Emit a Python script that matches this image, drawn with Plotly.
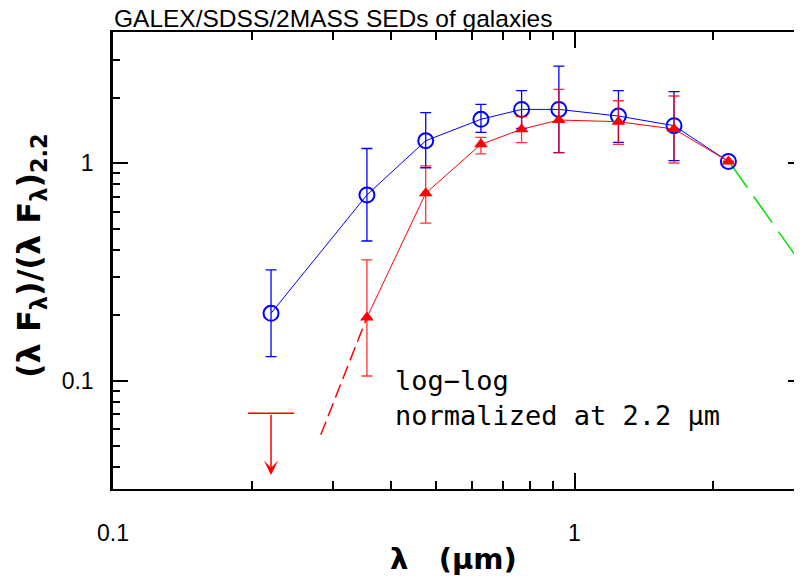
import math
import plotly.graph_objects as go

# ---------------- data ----------------
lam_blue = [0.22, 0.355, 0.476, 0.627, 0.768, 0.925, 1.245, 1.643, 2.155]
val_blue = [0.204, 0.715, 1.27, 1.594, 1.77, 1.77, 1.65, 1.49, 1.02]
blue_hi = [0.323, 1.17, 1.71, 1.868, 2.158, 2.80, 2.158, 2.135, 1.02]
blue_lo = [0.129, 0.439, 0.954, 1.389, 1.448, 1.119, 1.249, 1.028, 1.02]

lam_red = [0.355, 0.476, 0.627, 0.768, 0.925, 1.245, 1.643, 2.155]
val_red = [0.195, 0.728, 1.223, 1.434, 1.582, 1.554, 1.438, 1.02]
red_hi = [0.359, 0.972, 1.317, 1.638, 2.19, 1.94, 2.04, 1.02]
red_lo = [0.105, 0.53, 1.104, 1.244, 1.119, 1.223, 1.003, 1.02]

# upper limit (FUV/NUV) for red sample
lim_lam = [0.22]
lim_val = [0.0708]
lim_arrow_tip = [0.0368]

# dashed extrapolations
red_ext_lam = [0.282, 0.355]
red_ext_val = [0.0563, 0.195]
green_lam = [2.16, 3.6]
green_val = [1.02, 0.22]

x_ticks = [0.1, 1]
x_ticktext = ["0.1", "1"]
y_ticks = [0.1, 1]
y_ticktext = ["0.1", "1"]

title_text = "GALEX/SDSS/2MASS SEDs of galaxies"
note_line1 = "log\u2212log"
note_line2 = "normalized at 2.2 \u03bcm"
x_title = "\u03bb\u00a0\u00a0\u00a0(\u03bcm)"
y_title = "(\u03bb F<sub>\u03bb</sub>)/(\u03bb F<sub>\u03bb</sub>)<sub>2.2</sub>"

# ---------------- geometry ----------------
# the page body has an 8px margin, so figure coords = window coords - 8
OFF = 8
W, H = 802, 576
PL, PT, PB, PR = 113, 32, 489, 804          # plot box in window pixels
PW, PH = PR - PL, PB - PT
X_RANGE = [-1.0, -1.0 + PW / 461.5]
Y_RANGE = [math.log10(0.0317), math.log10(4.02)]


def px(wx):
    return (wx - PL) / PW


def py(wy):
    return (PB - wy) / PH


minor_x = [m * 10.0 ** e for e in (-1, 0) for m in range(2, 10)]
minor_y = [m * 10.0 ** e for e in (-2, -1, 0) for m in range(2, 10)]

fig = go.Figure()

fig.add_trace(go.Scatter(
    x=green_lam, y=green_val, mode="lines",
    line=dict(color="rgb(0,225,0)", width=1.5, dash="32px,11px"),
    showlegend=False, hoverinfo="skip"))

fig.add_trace(go.Scatter(
    x=red_ext_lam, y=red_ext_val, mode="lines",
    line=dict(color="red", width=1.5, dash="14px,6px"),
    showlegend=False, hoverinfo="skip"))

fig.add_trace(go.Scatter(
    x=lam_blue, y=val_blue, mode="lines+markers",
    line=dict(color="blue", width=1),
    marker=dict(symbol="circle-open", size=15, color="blue",
                line=dict(color="blue", width=2)),
    error_y=dict(type="data", symmetric=False,
                 array=[h - v for h, v in zip(blue_hi, val_blue)],
                 arrayminus=[v - l for l, v in zip(blue_lo, val_blue)],
                 color="blue", thickness=1.3, width=5.5),
    showlegend=False))

fig.add_trace(go.Scatter(
    x=lam_red, y=val_red, mode="lines+markers",
    line=dict(color="red", width=1),
    marker=dict(symbol="triangle-up", size=12, color="red"),
    error_y=dict(type="data", symmetric=False,
                 array=[h - v for h, v in zip(red_hi, val_red)],
                 arrayminus=[v - l for l, v in zip(red_lo, val_red)],
                 color="rgba(255,0,0,0.8)", thickness=1.3, width=5.5),
    showlegend=False))

fig.add_trace(go.Scatter(
    x=lim_lam, y=lim_val, mode="markers",
    marker=dict(symbol="line-ew", size=33, color="red",
                line=dict(color="red", width=1.5)),
    showlegend=False))

# dummy trace for right-hand tick axis
fig.add_trace(go.Scatter(x=[None], y=[None], yaxis="y2", showlegend=False))

fig.add_annotation(
    x=math.log10(lim_lam[0]), y=math.log10(lim_arrow_tip[0]),
    ax=math.log10(lim_lam[0]), ay=math.log10(lim_val[0]),
    xref="x", yref="y", axref="x", ayref="y",
    text="", showarrow=True, arrowhead=3, arrowsize=1.6,
    arrowwidth=1.5, arrowcolor="red")

axis_font = dict(family="Liberation Sans, Arial, sans-serif", size=23, color="black")

fig.update_layout(
    width=W, height=H,
    margin=dict(l=PL - OFF, r=W - (PR - OFF), t=PT - OFF, b=H - (PB - OFF),
                autoexpand=False),
    paper_bgcolor="white", plot_bgcolor="white",
    font=dict(family="Liberation Sans, Arial, sans-serif", color="black"),
    showlegend=False,
    xaxis=dict(
        type="log", range=X_RANGE, showgrid=False, zeroline=False, automargin=False,
        showline=True, linewidth=2, linecolor="black", mirror="ticks",
        ticks="inside", ticklen=16, tickwidth=2, tickcolor="black",
        tickmode="array", tickvals=x_ticks, ticktext=x_ticktext,
        tickfont=axis_font, ticklabelstandoff=22,
        minor=dict(ticks="inside", ticklen=8, tickwidth=1.5, tickcolor="black",
                   tickmode="array", tickvals=minor_x, showgrid=False),
    ),
    yaxis=dict(
        type="log", range=Y_RANGE, showgrid=False, zeroline=False, automargin=False,
        showline=True, linewidth=2.5, linecolor="black", mirror=False,
        ticks="inside", ticklen=15, tickwidth=2, tickcolor="black",
        tickmode="array", tickvals=y_ticks, ticktext=y_ticktext,
        tickfont=axis_font, ticklabelstandoff=12,
        minor=dict(ticks="inside", ticklen=7, tickwidth=1.5, tickcolor="black",
                   tickmode="array", tickvals=minor_y, showgrid=False),
    ),
    yaxis2=dict(
        type="log", range=Y_RANGE, overlaying="y", side="right", anchor="x",
        showgrid=False, zeroline=False, showline=False, automargin=False,
        ticks="inside", ticklen=16, tickwidth=2, tickcolor="black",
        tickmode="array", tickvals=y_ticks, showticklabels=False,
        minor=dict(ticks="inside", ticklen=8, tickwidth=1.5, tickcolor="black",
                   tickmode="array", tickvals=minor_y, showgrid=False),
    ),
)

# title (top-left)
fig.add_annotation(
    text=title_text, xref="paper", yref="paper", x=px(112), y=py(18),
    xanchor="left", yanchor="middle", showarrow=False,
    font=dict(family="Liberation Sans, Arial, sans-serif", size=24.5, color="black"))

# x title
fig.add_annotation(
    text="<b>" + x_title + "</b>", xref="paper", yref="paper",
    x=px(453), y=py(559),
    xanchor="center", yanchor="middle", showarrow=False,
    font=dict(family="DejaVu Sans, sans-serif", size=29, color="black"))

# y title
fig.add_annotation(
    text="<b>" + y_title + "</b>", xref="paper", yref="paper",
    x=px(31), y=py(256), textangle=-90,
    xanchor="center", yanchor="middle", showarrow=False,
    font=dict(family="DejaVu Sans, sans-serif", size=32, color="black"))

# note text (two lines in one block)
note_font = dict(family="DejaVu Sans Mono, monospace", size=27, color="black")
fig.add_annotation(
    text=note_line1 + "<br>" + note_line2, xref="paper", yref="paper",
    x=px(393), y=py(398), align="left",
    xanchor="left", yanchor="middle", showarrow=False, font=note_font)

fig.write_html("out.html")
